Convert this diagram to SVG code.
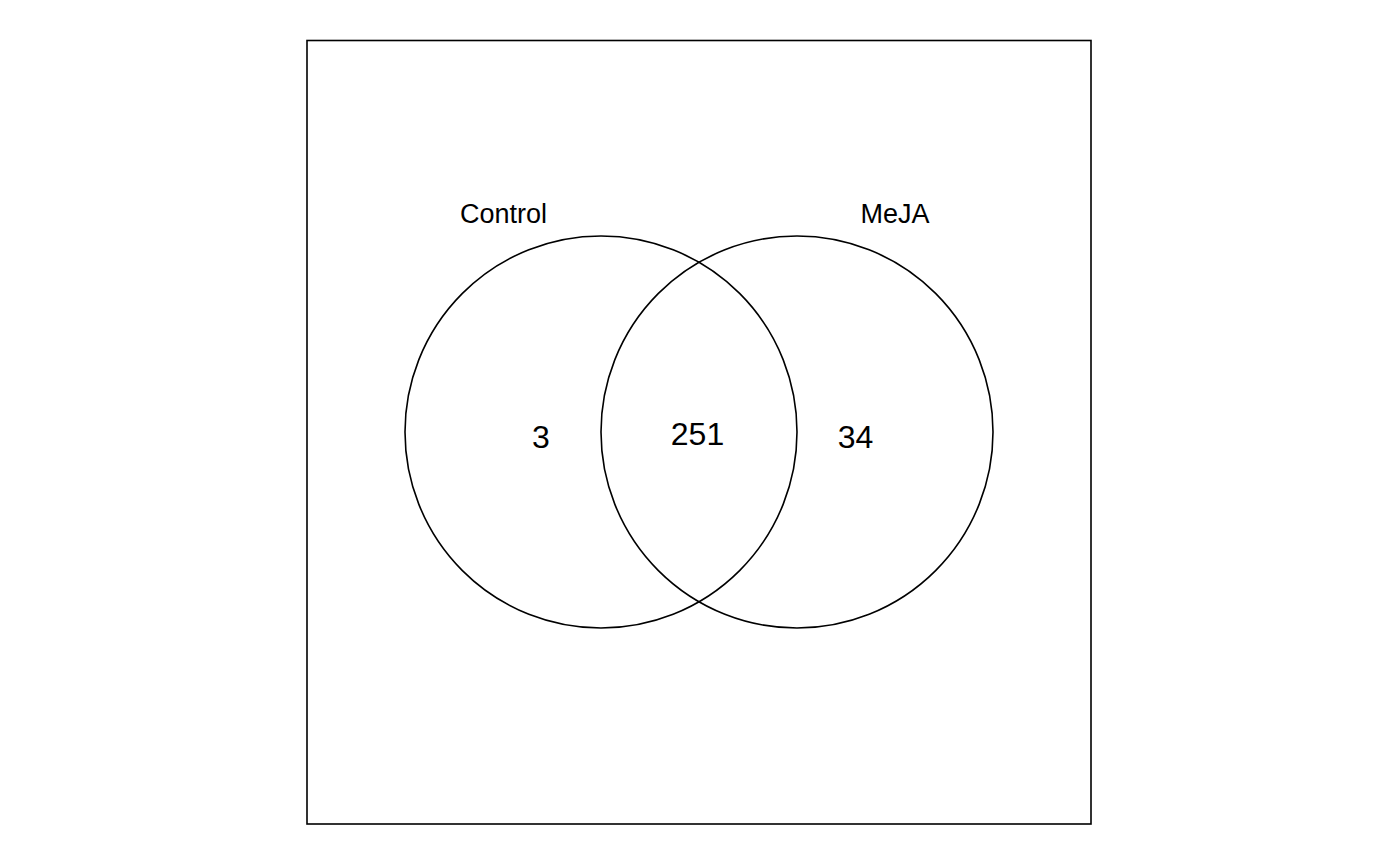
<svg xmlns="http://www.w3.org/2000/svg" width="1400" height="865" viewBox="0 0 1400 865">
<style>
.shape{fill:none;stroke:#000;stroke-width:1.6}
.lbl{font-family:"Liberation Sans",Arial,sans-serif;font-size:27px;fill:#000;text-anchor:middle}
.num{font-family:"Liberation Sans",Arial,sans-serif;font-size:32px;fill:#000;text-anchor:middle}
</style>
<rect width="1400" height="865" fill="#fff"/>
<rect id="frame" class="shape" x="307" y="40.5" width="784" height="783.5"/>
<g id="control">
<circle class="shape" cx="601" cy="432" r="196"/>
<text class="lbl" x="503.5" y="223">Control</text>
<text class="num" x="541" y="448">3</text>
</g>
<g id="meja">
<circle class="shape" cx="797" cy="432" r="196"/>
<text class="lbl" x="895" y="223">MeJA</text>
<text class="num" x="855.5" y="448">34</text>
</g>
<g id="intersection">
<text class="num" x="697.5" y="445">251</text>
</g>
<g id="connectors"></g>
</svg>
